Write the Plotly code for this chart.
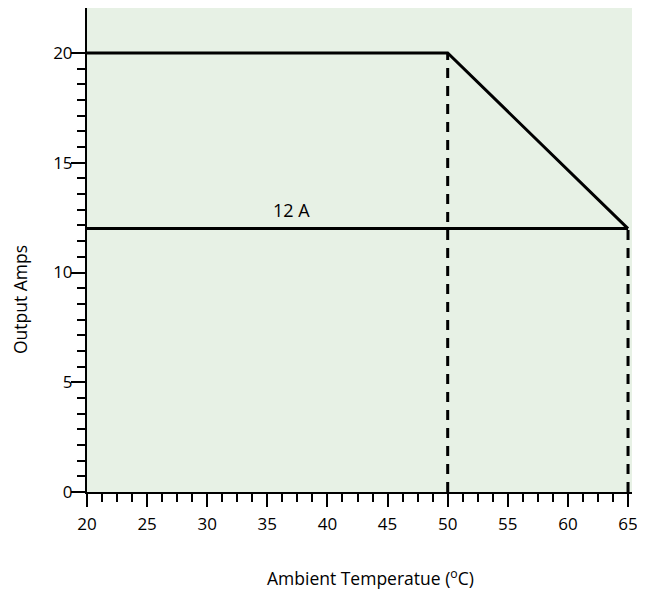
import plotly.graph_objects as go

# derating curve
temp_c = [20, 50, 65]
amps = [20, 20, 12]

# 12 A rated level
rated_temp = [20, 65]
rated_amps = [12, 12]

# dashed drop lines
drop_temps = [50, 65]
drop_amps = [20, 12]

x_ticks = [20, 25, 30, 35, 40, 45, 50, 55, 60, 65]
y_ticks = [0, 5, 10, 15, 20]

FONT = 'Open Sans'
GREEN = '#e7f1e5'

fig = go.Figure()

fig.add_trace(go.Scatter(x=temp_c, y=amps, mode='lines',
                         line=dict(color='black', width=3), showlegend=False))
fig.add_trace(go.Scatter(x=rated_temp, y=rated_amps, mode='lines',
                         line=dict(color='black', width=3), showlegend=False))
for t, a in zip(drop_temps, drop_amps):
    fig.add_trace(go.Scatter(x=[t, t], y=[0, a], mode='lines',
                             line=dict(color='black', width=3, dash='10px,8px'),
                             showlegend=False))

fig.add_annotation(x=37, y=12.2, text='12 A', showarrow=False, yanchor='bottom',
                   font=dict(family=FONT, size=18, color='black'))

y_minor = [i * 5 / 7 for i in range(29) if i % 7 != 0]

# page body adds 8px, so margins are shifted to keep the plot where it belongs
fig.update_layout(
    width=637, height=585,
    margin=dict(l=79, r=13, t=0, b=101),
    plot_bgcolor=GREEN, paper_bgcolor='white',
    font=dict(family=FONT, size=17, color='black'),
    xaxis=dict(range=[20, 65.33], tickvals=x_ticks, showgrid=False, zeroline=False,
               showline=True, linecolor='black', linewidth=2,
               ticks='outside', ticklen=13, tickwidth=2, tickcolor='black',
               ticklabelstandoff=3,
               minor=dict(tickmode='array', tickvals=[20 + i * 1.25 for i in range(37)],
                          ticks='outside', ticklen=8,
                          tickwidth=2, tickcolor='black', showgrid=False)),
    yaxis=dict(range=[0, 22.05], tickvals=y_ticks, showgrid=False, zeroline=False,
               showline=True, linecolor='black', linewidth=2,
               ticks='outside', ticklen=14, tickwidth=2, tickcolor='black',
               ticklabelstandoff=-5,
               minor=dict(tickmode='array', tickvals=y_minor, ticks='outside',
                          ticklen=8, tickwidth=2, tickcolor='black', showgrid=False)),
)

fig.add_annotation(xref='paper', yref='paper', x=(370 - 87) / 545, y=(492 - 577) / 484,
                   xanchor='center', yanchor='middle',
                   text='Ambient Temperatue (<sup>o</sup>C)', showarrow=False,
                   font=dict(family=FONT, size=17.5, color='black'))
fig.add_annotation(xref='paper', yref='paper', x=(20 - 87) / 545, y=(492 - 300) / 484,
                   xanchor='center', yanchor='middle',
                   text='Output Amps', textangle=-90, showarrow=False,
                   font=dict(family=FONT, size=17.5, color='black'))

fig.write_html('out.html')
